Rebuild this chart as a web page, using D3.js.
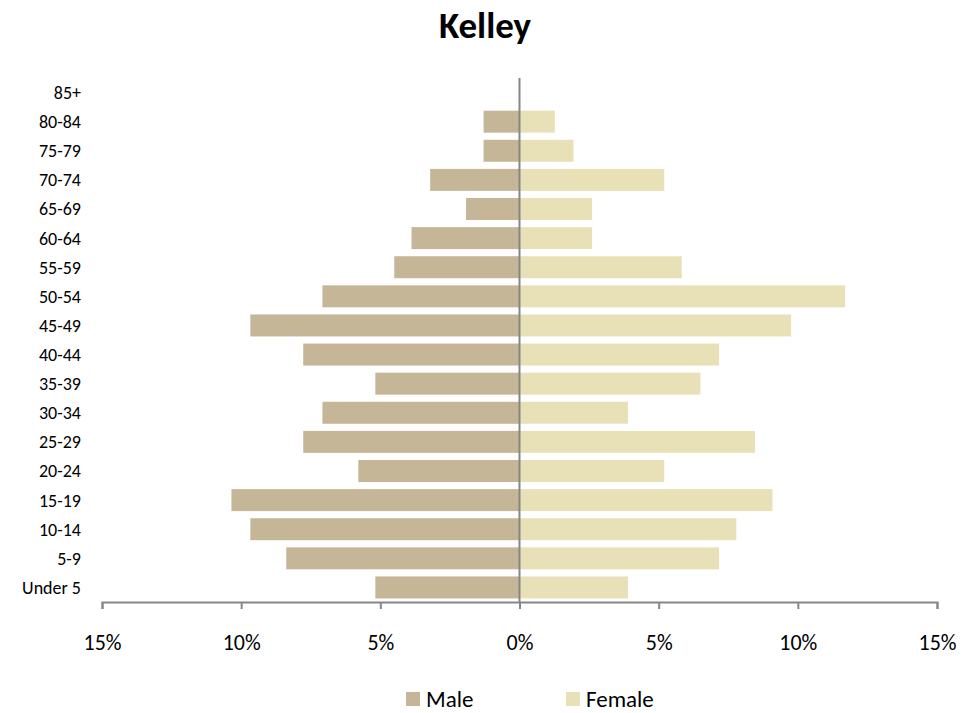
<!DOCTYPE html>
<html>
<head>
<meta charset="utf-8">
<script src="https://cdn.jsdelivr.net/npm/d3@7"></script>
<style>
  body { margin: 0; background: #fff; }
  text { font-family: Calibri, Carlito, Lato, sans-serif; fill: #000; }
</style>
</head>
<body>
<svg class="canvasClass" width="979" height="713"></svg>
<script>
// age groups, bottom to top
let ageGroups = ["Under 5", "5-9", "10-14", "15-19", "20-24", "25-29", "30-34", "35-39", "40-44",
    "45-49", "50-54", "55-59", "60-64", "65-69", "70-74", "75-79", "80-84", "85+"];
// share of population in percent
let maleShare = [5.18, 8.38, 9.67, 10.35, 5.79, 7.77, 7.08, 5.18, 7.77,
    9.67, 7.08, 4.5, 3.88, 1.92, 3.21, 1.29, 1.29, 0];
let femaleShare = [3.9, 7.17, 7.79, 9.09, 5.2, 8.46, 3.9, 6.5, 7.17,
    9.76, 11.7, 5.83, 2.61, 2.61, 5.2, 1.94, 1.27, 0];
let tickValues = [-15, -10, -5, 0, 5, 10, 15];
let seriesNames = ["Male", "Female"];
let seriesColors = ["#c4b696", "#e8e1b7"];

function setupDom(){

    let svg = d3.select(".canvasClass");

    // scales
    var x = d3.scaleLinear()
        .domain([-15, 15])
        .range([102, 937]);

    var y = d3.scaleBand()
        .domain(ageGroups.slice().reverse())
        .range([78, 602])
        .paddingInner(0.245)
        .paddingOuter(0.1225);

    // title
    svg.append("text")
        .attr("x", 485)
        .attr("y", 38)
        .attr("text-anchor", "middle")
        .style("font-size", "37px")
        .style("font-weight", "bold")
        .text("Kelley");

    // male bars go left
    svg.append("g")
        .selectAll("rect")
        .data(ageGroups)
        .enter()
        .append("rect")
        .attr("x", (d, i) => x(-maleShare[i]))
        .attr("y", d => y(d))
        .attr("width", (d, i) => x(0) - x(-maleShare[i]))
        .attr("height", y.bandwidth())
        .attr("fill", seriesColors[0]);

    // female bars go right
    svg.append("g")
        .selectAll("rect")
        .data(ageGroups)
        .enter()
        .append("rect")
        .attr("x", x(0))
        .attr("y", d => y(d))
        .attr("width", (d, i) => x(femaleShare[i]) - x(0))
        .attr("height", y.bandwidth())
        .attr("fill", seriesColors[1]);

    // category labels
    svg.append("g")
        .selectAll("text")
        .data(ageGroups)
        .enter()
        .append("text")
        .attr("x", 81)
        .attr("y", d => y(d) + y.bandwidth() / 2)
        .attr("dy", "0.36em")
        .attr("text-anchor", "end")
        .style("font-size", "18px")
        .text(d => d);

    // x axis
    let xAxis = svg.append("g")
        .attr("transform", "translate(0,602)")
        .call(d3.axisBottom(x)
            .tickValues(tickValues)
            .tickSize(7)
            .tickSizeOuter(7)
            .tickPadding(25)
            .tickFormat(d => Math.abs(d) + "%"));
    xAxis.selectAll("path, line")
        .attr("stroke", "#868686")
        .attr("stroke-width", 2);
    xAxis.selectAll("text")
        .style("font-size", "22px")
        .style("font-family", "Calibri, Carlito, Lato, sans-serif")
        .attr("fill", "#000");

    // vertical line at zero
    svg.append("line")
        .attr("x1", x(0))
        .attr("x2", x(0))
        .attr("y1", 78)
        .attr("y2", 602)
        .attr("stroke", "#868686")
        .attr("stroke-width", 2);

    // legend
    let legendX = [406, 566];
    let legend = svg.append("g")
        .selectAll("g")
        .data(seriesNames)
        .enter()
        .append("g")
        .attr("transform", (d, i) => "translate(" + legendX[i] + ",692)");
    legend.append("rect")
        .attr("width", 14)
        .attr("height", 14)
        .attr("fill", (d, i) => seriesColors[i]);
    legend.append("text")
        .attr("x", 20)
        .attr("y", 15)
        .style("font-size", "23px")
        .text(d => d);
}

setupDom();
</script>
</body>
</html>
